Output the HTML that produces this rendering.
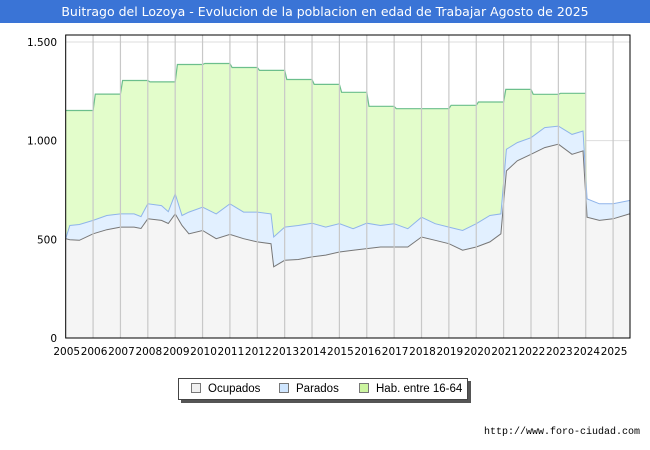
<!DOCTYPE html>
<html><head><meta charset="utf-8"><style>
body{margin:0;width:650px;height:450px;background:#fff;font-family:"DejaVu Sans","Liberation Sans",sans-serif;overflow:hidden;position:relative}
#title{position:absolute;left:0;top:0;width:650px;height:23px;background:#3a74d6;color:#fff;font-size:12.5px;line-height:23px;text-align:center;white-space:nowrap}
#legend{position:absolute;left:178px;top:378px;width:288px;height:20px;border:1px solid #444;box-shadow:3px 3px 0 #555;background:#fff;font-family:"Liberation Sans",sans-serif;font-size:11.5px;line-height:20px;white-space:nowrap}
.li{position:absolute;top:0;white-space:nowrap}
.sw{display:inline-block;width:8px;height:8px;border:1px solid #777;margin-right:7px;vertical-align:-1px}
#url{position:absolute;right:10px;top:427px;font-size:10px;font-family:"Liberation Mono",monospace}
</style></head><body>
<div id="title">Buitrago del Lozoya - Evolucion de la poblacion en edad de Trabajar Agosto de 2025</div>
<svg id="chart" width="650" height="450" style="position:absolute;left:0;top:0"></svg>
<div id="legend">
<span class="li" style="left:12px"><span class="sw" style="background:#f0f0f0"></span>Ocupados</span>
<span class="li" style="left:100px"><span class="sw" style="background:#cfe6ff"></span>Parados</span>
<span class="li" style="left:180px"><span class="sw" style="background:#ccf5a0"></span>Hab. entre 16-64</span>
</div>
<div id="url">http://www.foro-ciudad.com</div>
<script>
const dates=[2005.0,2005.15,2005.5,2006.0,2006.5,2007.0,2007.5,2007.75,2008.0,2008.5,2008.75,2009.0,2009.25,2009.5,2010.0,2010.5,2011.0,2011.5,2012.0,2012.5,2012.6,2013.0,2013.5,2014.0,2014.5,2015.0,2015.5,2016.0,2016.5,2017.0,2017.5,2018.0,2018.5,2019.0,2019.5,2020.0,2020.5,2020.9,2021.1,2021.5,2022.0,2022.5,2023.0,2023.5,2023.9,2024.05,2024.5,2025.0,2025.6];
const ocupados=[503,498,495,528,549,562,562,555,604,596,580,629,570,528,545,503,525,503,487,478,361,394,398,411,420,436,445,453,461,461,461,512,495,478,445,461,487,528,847,898,931,965,982,931,948,612,596,604,629];
const parados=[0,72,80,68,72,67,67,60,76,75,60,101,51,110,118,126,155,135,151,151,151,168,172,171,142,143,109,129,109,118,93,100,84,84,100,118,134,101,109,92,84,101,92,101,101,93,84,76,68];
const habYears=[2005,2006,2007,2008,2009,2010,2011,2012,2013,2014,2015,2016,2017,2018,2019,2020,2021,2022,2023];
const habValues=[1153,1236,1305,1298,1386,1391,1371,1356,1310,1285,1245,1174,1162,1162,1179,1196,1260,1235,1240];
const yTicks=[0,500,1000,1500];
const yTickLabels=["0","500","1.000","1.500"];
const xTicks=[2005,2006,2007,2008,2009,2010,2011,2012,2013,2014,2015,2016,2017,2018,2019,2020,2021,2022,2023,2024,2025];

const L=65.7,R=630,T=35,B=338;
const X=t=>L+(t-2005)*27.37;
const Y=v=>B-v*(296/1500);
const svg=document.getElementById('chart');
const NS='http://www.w3.org/2000/svg';
function mk(tag,attrs,parent){const e=document.createElementNS(NS,tag);for(const k in attrs)e.setAttribute(k,attrs[k]);(parent||svg).appendChild(e);return e;}

yTicks.forEach((v,i)=>{
  const g=mk('line',{x1:L,x2:R,y1:Y(v),y2:Y(v),stroke:'#ddd','stroke-width':1});
  
  
  const t=mk('text',{x:57,y:Y(v)+4,'text-anchor':'end','font-size':10.5,'font-family':'DejaVu Sans, Liberation Sans, sans-serif'});
  t.textContent=yTickLabels[i];
  
  
});
xTicks.forEach(y=>{
  const t=mk('text',{x:X(y)+1,y:355,'text-anchor':'middle','font-size':10.5,'font-family':'DejaVu Sans, Liberation Sans, sans-serif'});
  t.textContent=y;
  
  
});

const habPts=[];
habYears.forEach((y,i)=>{habPts.push([i===0?y:y+0.08,habValues[i]]);habPts.push([y+1,habValues[i]]);});
const lastHab=habYears[habYears.length-1]+1;
const totals=dates.map((d,i)=>ocupados[i]+parados[i]);
const totAfter=dates.map((d,i)=>[d,totals[i]]).filter(p=>p[0]>lastHab);
const habLine=habPts.concat(totAfter);
const pts=a=>a.map(p=>X(p[0]).toFixed(1)+','+Y(p[1]).toFixed(1)).join(' ');
const first=X(dates[0]),last=X(dates[dates.length-1]);
const habArea=mk('polygon',{points:X(2005)+','+B+' '+pts(habLine)+' '+last+','+B,fill:'#e3fdcb'});


const hl=mk('polyline',{points:pts(habPts),fill:'none',stroke:'#6cbf8c','stroke-width':1.2});


const totPts=dates.map((d,i)=>[d,totals[i]]);
const pa=mk('polygon',{points:first+','+B+' '+pts(totPts)+' '+last+','+B,fill:'#e2f0ff'});


const pl=mk('polyline',{points:pts(totPts),fill:'none',stroke:'#8fb4ea','stroke-width':1});


const ocPts=dates.map((d,i)=>[d,ocupados[i]]);
const oa=mk('polygon',{points:first+','+B+' '+pts(ocPts)+' '+last+','+B,fill:'#f5f5f5'});


const ol=mk('polyline',{points:pts(ocPts),fill:'none',stroke:'#777','stroke-width':1});


xTicks.slice(1).forEach(y=>{
  const g=mk('line',{x1:X(y),x2:X(y),y1:T,y2:B,stroke:'#c8c8c8','stroke-width':1.2});
  
  
});
const fr=mk('rect',{x:L,y:T,width:R-L,height:B-T,fill:'none',stroke:'#000','stroke-width':1});


</script>
</body></html>
